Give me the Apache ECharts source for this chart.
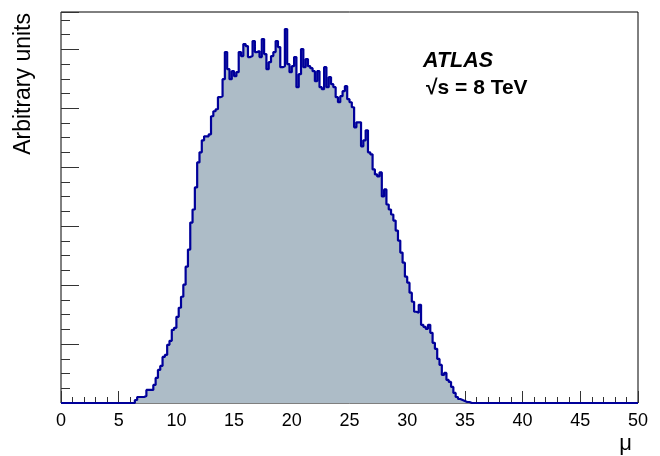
<!DOCTYPE html>
<html>
<head>
<meta charset="utf-8">
<script src="https://cdn.jsdelivr.net/npm/echarts@6/dist/echarts.min.js"></script>
<style>
  html, body { margin: 0; padding: 0; background: #fff; }
  #chart { width: 660px; height: 456px; }
</style>
</head>
<body>
<div id="chart"></div>
<script>
// mu histogram, 0.2 wide bins (arbitrary units)
const muMin = 0
const muMax = 50
const binWidth = 0.2
const firstBin = 6.4
const counts = [
  3, 6, 6, 6, 7, 13, 13, 13, 18, 25,
  33, 37, 46, 48, 58, 62, 73, 75, 86, 95,
  106, 118, 136, 153, 180, 193, 215, 240, 250, 262,
  266, 266, 268, 286, 291, 293, 305, 306, 323, 350,
  333, 323, 331, 326, 330, 350, 346, 358, 356, 345,
  346, 361, 350, 351, 345, 363, 348, 333, 340, 346,
  350, 361, 355, 335, 336, 373, 338, 330, 336, 345,
  315, 328, 353, 335, 343, 336, 334, 331, 321, 331,
  315, 313, 335, 315, 325, 318, 315, 305, 300, 306,
  311, 316, 303, 300, 295, 275, 280, 280, 256, 262,
  272, 250, 248, 233, 228, 226, 230, 206, 213, 198,
  193, 188, 182, 172, 162, 150, 140, 126, 120, 110,
  101, 91, 90, 98, 78, 76, 74, 78, 70, 60,
  54, 44, 38, 28, 30, 23, 21, 16, 10, 6,
  4, 3, 2, 1, 1
]
const xTickStep = 5
const yMax = 390
const yMajor = 58.8
const yMinor = 14.7

// build step points over the full 0-50 range (zeros outside the filled bins)
const nBins = Math.round((muMax - muMin) / binWidth)
const offset = Math.round((firstBin - muMin) / binWidth)
const points = []
for (let i = 0; i < nBins; i++) {
  const v = counts[i - offset] || 0
  points.push([+(muMin + i * binWidth).toFixed(2), v])
}
points.push([muMax, 0])

const chart = echarts.init(document.getElementById('chart'))

const tickStyle = { color: '#333', width: 1 }

chart.setOption({
  animation: false,
  backgroundColor: '#fff',
  grid: {
    left: 61,
    right: 22,
    top: 12,
    bottom: 53,
    show: true,
    borderColor: '#000',
    borderWidth: 1,
    backgroundColor: 'transparent',
    outerBoundsMode: 'none'
  },
  xAxis: {
    type: 'value',
    min: muMin,
    max: muMax,
    interval: xTickStep,
    axisLine: { show: false },
    axisTick: { show: true, inside: true, length: 12, lineStyle: tickStyle },
    minorTick: { show: true, splitNumber: 5, length: 6, lineStyle: tickStyle },
    splitLine: { show: false },
    axisLabel: {
      margin: 9,
      fontFamily: 'Liberation Sans',
      fontSize: 18,
      color: '#000'
    }
  },
  yAxis: [
    {
      type: 'value',
      min: 0,
      max: yMax,
      interval: yMajor,
      position: 'left',
      axisLine: { show: false },
      axisTick: { show: true, inside: true, length: 18, lineStyle: tickStyle },
      axisLabel: { show: false },
      splitLine: { show: false }
    },
    {
      type: 'value',
      min: 0,
      max: yMax,
      interval: yMinor,
      position: 'left',
      offset: 0,
      axisLine: { show: false },
      axisTick: { show: true, inside: true, length: 9, lineStyle: tickStyle },
      axisLabel: { show: false },
      splitLine: { show: false }
    }
  ],
  series: [
    {
      type: 'line',
      step: 'end',
      yAxisIndex: 0,
      data: points,
      symbol: 'none',
      lineStyle: { color: '#00009a', width: 2.2 },
      areaStyle: { color: '#adbcc7', opacity: 1 },
      z: 1
    }
  ],
  graphic: [
    {
      type: 'text',
      x: 24,
      y: 13,
      rotation: Math.PI / 2,
      style: {
        text: 'Arbitrary units',
        fontFamily: 'Liberation Sans',
        fontSize: 23,
        fill: '#000',
        textAlign: 'right',
        textVerticalAlign: 'middle'
      }
    },
    {
      type: 'text',
      x: 632,
      y: 444,
      style: {
        text: 'μ',
        fontFamily: 'Liberation Sans',
        fontSize: 22,
        fill: '#000',
        textAlign: 'right',
        textVerticalAlign: 'middle'
      }
    },
    {
      type: 'text',
      x: 423,
      y: 61.5,
      style: {
        text: 'ATLAS',
        fontFamily: 'Liberation Sans',
        fontStyle: 'italic',
        fontWeight: 'bold',
        fontSize: 21.5,
        fill: '#000',
        textAlign: 'left',
        textVerticalAlign: 'middle'
      }
    },
    {
      type: 'text',
      x: 426,
      y: 88,
      style: {
        text: '√s = 8 TeV',
        fontFamily: 'Liberation Sans',
        fontWeight: 'bold',
        fontSize: 21,
        fill: '#000',
        textAlign: 'left',
        textVerticalAlign: 'middle'
      }
    }
  ]
})
</script>
</body>
</html>
